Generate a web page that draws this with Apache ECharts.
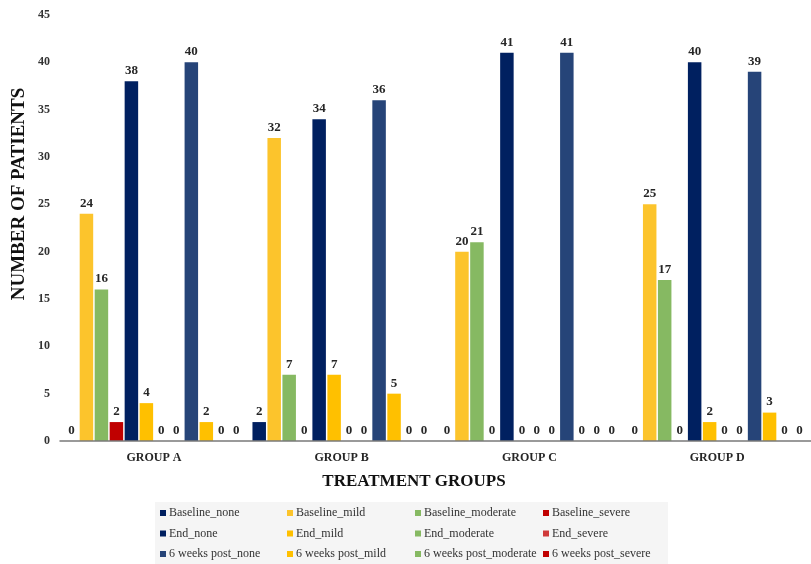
<!DOCTYPE html>
<html>
<head>
<meta charset="utf-8">
<script src="https://cdn.jsdelivr.net/npm/echarts@6/dist/echarts.min.js"></script>
<style>
  html, body { margin: 0; padding: 0; background: #fff; }
  #chart { width: 811px; height: 564px; }
</style>
</head>
<body>
<div id="chart"></div>
<script>
// data
var categories = ['GROUP A', 'GROUP B', 'GROUP C', 'GROUP D'];
var yTicks = [0, 5, 10, 15, 20, 25, 30, 35, 40, 45];

var baselineNone     = [0, 2, 0, 0];
var baselineMild     = [24, 32, 20, 25];
var baselineModerate = [16, 7, 21, 17];
var baselineSevere   = [2, 0, 0, 0];
var endNone          = [38, 34, 41, 40];
var endMild          = [4, 7, 0, 2];
var endModerate      = [0, 0, 0, 0];
var endSevere        = [0, 0, 0, 0];
var postNone         = [40, 36, 41, 39];
var postMild         = [2, 5, 0, 3];
var postModerate     = [0, 0, 0, 0];
var postSevere       = [0, 0, 0, 0];

var seriesNames = [
  'Baseline_none', 'Baseline_mild', 'Baseline_moderate', 'Baseline_severe',
  'End_none', 'End_mild', 'End_moderate', 'End_severe',
  '6 weeks post_none', '6 weeks post_mild', '6 weeks post_moderate', '6 weeks post_severe'
];
var seriesData = [
  baselineNone, baselineMild, baselineModerate, baselineSevere,
  endNone, endMild, endModerate, endSevere,
  postNone, postMild, postModerate, postSevere
];
var colors = [
  '#002060', '#FCC42C', '#86B962', '#C00000',
  '#002060', '#FFC000', '#86B962', '#D03A3A',
  '#264478', '#FFC000', '#86B962', '#C00000'
];

var serif = 'Liberation Serif, Times New Roman, serif';

var myChart = echarts.init(document.getElementById('chart'));

var series = seriesNames.map(function (name, i) {
  return {
    name: name,
    type: 'bar',
    data: seriesData[i],
    barWidth: 13.5,
    barGap: '11%',
    itemStyle: {
      color: colors[i]
    },
    label: {
      show: true,
      position: 'top',
      distance: 4,
      fontFamily: serif,
      fontWeight: 'bold',
      fontSize: 13,
      color: '#262626'
    }
  };
});

// legend is 4 columns of 3 rows
function legendCol(names, left) {
  return {
    orient: 'vertical',
    left: left,
    top: 506,
    itemWidth: 6,
    itemHeight: 6,
    itemGap: 6.5,
    icon: 'rect',
    padding: 0,
    data: names,
    textStyle: {
      fontFamily: serif,
      fontSize: 12,
      lineHeight: 14,
      color: '#333333',
      padding: [0, 0, 0, -2]
    }
  };
}

var option = {
  backgroundColor: '#ffffff',
  animation: false,
  color: colors,
  grid: {
    left: 60,
    right: -11,
    top: 15,
    bottom: 123
  },
  legend: [
    legendCol([seriesNames[0], seriesNames[4], seriesNames[8]], 160),
    legendCol([seriesNames[1], seriesNames[5], seriesNames[9]], 287),
    legendCol([seriesNames[2], seriesNames[6], seriesNames[10]], 415),
    legendCol([seriesNames[3], seriesNames[7], seriesNames[11]], 543)
  ],
  xAxis: {
    type: 'category',
    data: categories,
    z: 10,
    axisTick: { show: false },
    axisLine: { lineStyle: { color: '#7a7a7a', width: 1.5 } },
    axisLabel: {
      margin: 11,
      fontFamily: serif,
      fontWeight: 'bold',
      fontSize: 12,
      color: '#262626'
    }
  },
  yAxis: {
    type: 'value',
    min: yTicks[0],
    max: yTicks[yTicks.length - 1],
    interval: 5,
    axisLine: { show: false },
    axisTick: { show: false },
    splitLine: { show: false },
    axisLabel: {
      margin: 10,
      fontFamily: serif,
      fontWeight: 'bold',
      fontSize: 12,
      color: '#333333'
    }
  },
  graphic: [
    {
      type: 'rect',
      z: -1,
      silent: true,
      shape: { x: 155, y: 502, width: 513, height: 62 },
      style: { fill: '#f5f5f5' }
    },
    {
      type: 'text',
      x: 414,
      y: 482,
      style: {
        text: 'TREATMENT GROUPS',
        font: 'bold 17px ' + serif,
        fill: '#111111',
        textAlign: 'center',
        textVerticalAlign: 'middle'
      }
    },
    {
      type: 'text',
      x: 19,
      y: 194,
      rotation: Math.PI / 2,
      style: {
        text: 'NUMBER OF PATIENTS',
        font: 'bold 19px ' + serif,
        fill: '#111111',
        textAlign: 'center',
        textVerticalAlign: 'middle'
      }
    }
  ],
  series: series
};

myChart.setOption(option);
</script>
</body>
</html>
